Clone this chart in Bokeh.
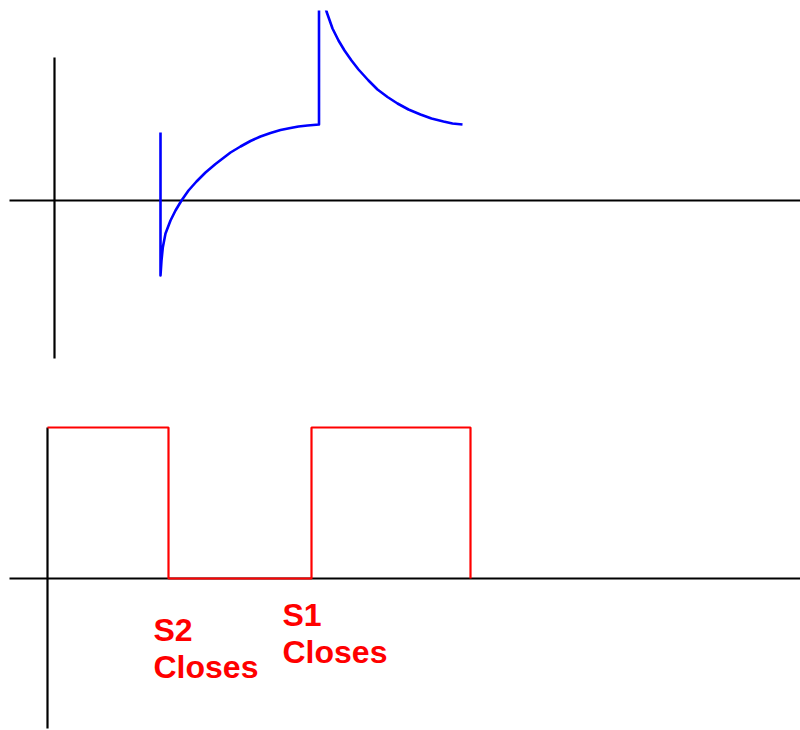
from bokeh.plotting import figure
from bokeh.layouts import column
from bokeh.models import Range1d
from bokeh.core.properties import value
from bokeh.embed import file_html
from bokeh.resources import INLINE

# ---- top panel: response (time units, value units) ----
resp_t = [106, 106, 107, 108.3, 111, 116, 121, 127, 134, 142, 151, 161, 176, 186, 196,
          206, 216, 226, 236, 244, 253, 264.5,
          264.5, 272, 278, 284, 290, 297, 304, 314, 323, 333, 343, 354, 366, 377,
          389, 398, 408]
resp_v = [68, -75, -60, -47, -33, -20, -10, 0, 10, 19, 28, 36.5, 48, 54, 59.5,
          64, 67.5, 70.5, 72.5, 74, 75, 76,
          215, 189, 172, 160, 150, 140, 131, 120, 111, 103.5, 97, 91, 86, 82,
          79, 77, 76]
top_axis_h_t = [-45, 760]
top_axis_v_v = [143, -158]

# ---- bottom panel: switch state ----
sw_t = [0, 121, 121, 264, 264, 423, 423]
sw_v = [151, 151, 0, 0, 151, 151, 0]
bot_axis_h_t = [-38, 760]
bot_axis_v_v = [151, -150]

labels = ["S2\nCloses", "S1\nCloses"]
label_t = [106, 235]
label_v = [-33, -18]

W = 800

top = figure(width=W, height=390, output_backend="svg", toolbar_location=None,
             x_range=Range1d(-54, 746), y_range=Range1d(-190, 190),
             min_border_left=0, min_border_right=0, min_border_top=10, min_border_bottom=0)
top.line(top_axis_h_t, [0, 0], line_color="black", line_width=2.2)
top.line([0, 0], top_axis_v_v, line_color="black", line_width=2.2)
top.line(resp_t, resp_v, line_color="#0000ff", line_width=2.6, line_join="round")

bot = figure(width=W, height=340, output_backend="svg", toolbar_location=None,
             x_range=Range1d(-47, 753), y_range=Range1d(-152, 188),
             min_border_left=0, min_border_right=0, min_border_top=0, min_border_bottom=0)
bot.line(bot_axis_h_t, [0, 0], line_color="black", line_width=2.2)
bot.line([0, 0], bot_axis_v_v, line_color="black", line_width=2.2)
bot.line(sw_t, sw_v, line_color="#ff0000", line_width=2.2)
bot.text(x=label_t, y=label_v, text=labels, text_color="#ff0000",
         text_font=value("Liberation Sans"), text_font_size="32px",
         text_font_style="bold", text_baseline="top", text_align="left",
         text_line_height=1.04)

for p in (top, bot):
    p.axis.visible = False
    p.grid.visible = False
    p.outline_line_color = None
    p.background_fill_color = "white"
    p.border_fill_color = "white"

layout = column(top, bot, spacing=0)
open("out.html", "w").write(file_html(layout, INLINE))
